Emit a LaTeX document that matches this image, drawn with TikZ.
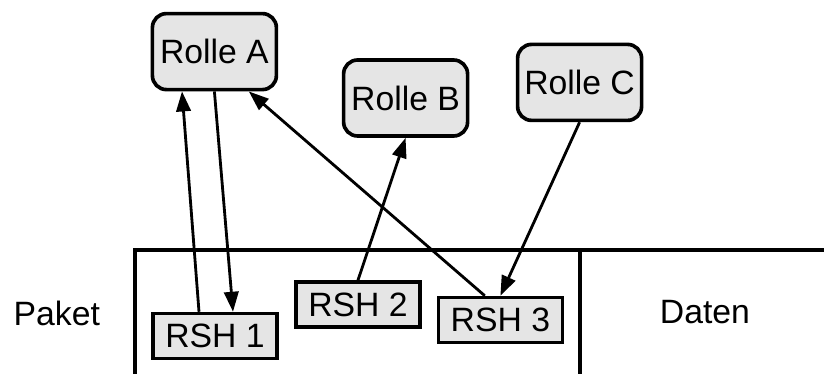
\documentclass[tikz,border=0pt]{standalone}
\usepackage{fontspec}
\setmainfont{Liberation Sans}
\usepackage{tikz}
\usetikzlibrary{arrows.meta}

\definecolor{boxgrau}{gray}{0.9}

\begin{document}
\begin{tikzpicture}[
  rolle/.style={draw, line width=2.6pt, fill=boxgrau, rounded corners=0.35cm,
    minimum width=3.1cm, minimum height=1.9cm},
  rsh/.style={draw, line width=2.6pt, fill=boxgrau,
    minimum width=3.1cm, minimum height=1.12cm},
  pfeil/.style={-{Triangle[length=0.5cm,width=0.36cm]}, line width=2pt},
  font=\fontsize{24}{29}\selectfont]
\useasboundingbox (0,0) rectangle (20.6,9.35);

% Packet frame
\draw[line width=2.2pt] (3.375,0) |- (20.6,3.1);
\draw[line width=2.2pt] (14.5,0) -- (14.5,3.1);

% Roles
\node[rolle] (rolleA) at (5.36,8.06) {Rolle A};
\node[rolle] (rolleB) at (10.14,6.9) {Rolle B};
\node[rolle] (rolleC) at (14.49,7.29) {Rolle C};

% Headers inside the packet
\node[rsh] (rsh1) at (5.375,0.95) {RSH 1};
\node[rsh] (rsh2) at (8.95,1.74) {RSH 2};
\node[rsh] (rsh3) at (12.51,1.35) {RSH 3};

\node (paket) at (1.42,1.525) {Paket};
\node (daten) at (17.625,1.55) {Daten};

% Links between headers and roles
\draw[pfeil] ([xshift=-0.4cm]rsh1.north) -- ([xshift=-0.81cm]rolleA.south);
\draw[pfeil] (rolleA.south) -- ([xshift=0.45cm]rsh1.north);
\draw[pfeil] ([xshift=-0.39cm]rsh3.north) -- ([xshift=0.86cm]rolleA.south);
\draw[pfeil] (rsh2.north) -- (rolleB.south);
\draw[pfeil] (rolleC.south) -- (rsh3.north);
\end{tikzpicture}
\end{document}
